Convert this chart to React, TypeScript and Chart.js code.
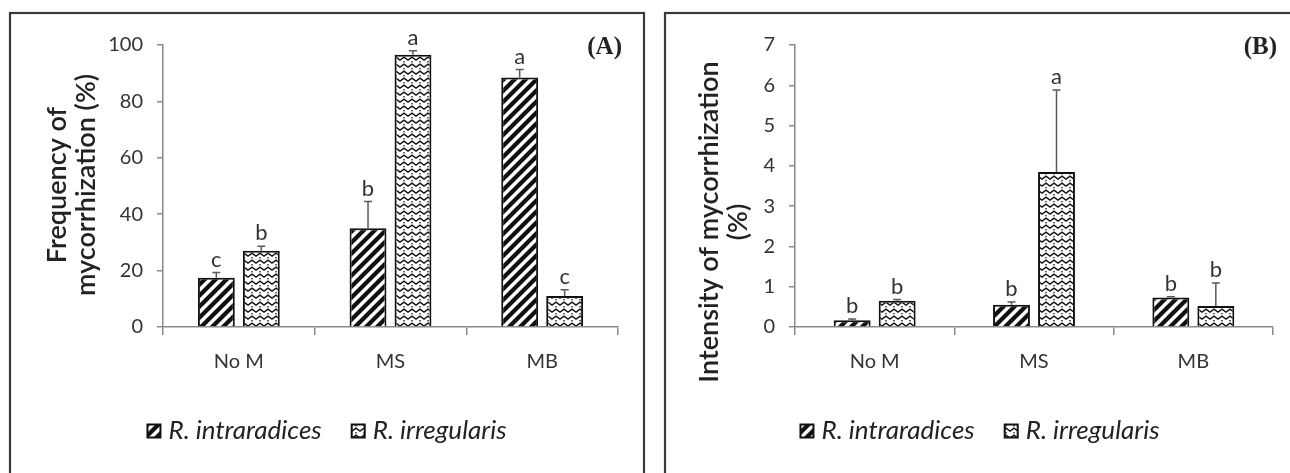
import React, { useEffect, useRef } from 'react';
import { Chart, registerables } from 'chart.js';

Chart.register(...registerables);

// ---------- data ----------
const categories = ['No M', 'MS', 'MB'];
const seriesNames = ['R. intraradices', 'R. irregularis'];

// Panel (A): frequency of mycorrhization (%)
const freqIntra = [17.5, 35, 88.5];
const freqIntraErr = [1.8, 9.5, 2.8];
const freqIrreg = [27, 96.5, 11];
const freqIrregErr = [1.6, 1.5, 2.2];
const freqIntraLetters = ['c', 'b', 'a'];
const freqIrregLetters = ['b', 'a', 'c'];
const freqMax = 100;
const freqStep = 20;

// Panel (B): intensity of mycorrhization (%)
const intIntra = [0.17, 0.55, 0.73];
const intIntraErr = [0.03, 0.07, 0.02];
const intIrreg = [0.65, 3.85, 0.52];
const intIrregErr = [0.03, 2.03, 0.57];
const intIntraLetters = ['b', 'b', 'b'];
const intIrregLetters = ['b', 'a', 'b'];
const intMax = 7;
const intStep = 1;

const FONT = "Lato, 'Open Sans', sans-serif";

function makeStripePattern(ctx: CanvasRenderingContext2D) {
  const c = document.createElement('canvas');
  const s = 11;
  c.width = s;
  c.height = s;
  const g = c.getContext('2d')!;
  g.fillStyle = '#ffffff';
  g.fillRect(0, 0, s, s);
  g.strokeStyle = '#111111';
  g.lineWidth = 4.2;
  g.lineCap = 'square';
  for (const x0 of [-s, 0, s]) {
    g.beginPath();
    g.moveTo(x0 - 1, s + 1);
    g.lineTo(x0 + s + 1, -1);
    g.stroke();
  }
  return ctx.createPattern(c, 'repeat')!;
}

function makeWavePattern(ctx: CanvasRenderingContext2D) {
  const c = document.createElement('canvas');
  const w = 8;
  const h = 7;
  c.width = w;
  c.height = h;
  const g = c.getContext('2d')!;
  g.fillStyle = '#ffffff';
  g.fillRect(0, 0, w, h);
  g.strokeStyle = '#111111';
  g.lineWidth = 1.4;
  g.beginPath();
  g.moveTo(-0.5, 4.5);
  g.lineTo(4, 1.2);
  g.lineTo(8.5, 4.5);
  g.stroke();
  g.fillStyle = '#222222';
  g.fillRect(3.3, 5.0, 1.4, 1.4);
  return ctx.createPattern(c, 'repeat')!;
}

type PanelCfg = {
  intra: number[];
  intraErr: number[];
  irreg: number[];
  irregErr: number[];
  intraLetters: string[];
  irregLetters: string[];
  yMax: number;
  yStep: number;
  titleLines: string[];
  titleX: number[];
  titleCY: number;
  panelLabel: string;
  width: number;
  areaLeft: number;
  areaRight: number;
  borderLeft: number;
  borderRight: number;
  catPct: number;
};

const H = 473;
const AREA_TOP = 45;
const AREA_BOTTOM = 327;

function buildChart(canvas: HTMLCanvasElement, cfg: PanelCfg) {
  const ctx = canvas.getContext('2d')!;
  const stripe = makeStripePattern(ctx);
  const wave = makeWavePattern(ctx);
  const errs = [cfg.intraErr, cfg.irregErr];
  const vals = [cfg.intra, cfg.irreg];
  const letters = [cfg.intraLetters, cfg.irregLetters];
  const fills = [stripe, wave];

  const overlay = {
    id: 'overlay',
    beforeDraw(chart: any) {
      const c = chart.ctx;
      c.save();
      c.fillStyle = '#ffffff';
      c.fillRect(0, 0, chart.width, chart.height);
      c.strokeStyle = '#3a3a3a';
      c.lineWidth = 2.2;
      c.strokeRect(cfg.borderLeft, 13, cfg.borderRight - cfg.borderLeft, 500);
      c.restore();
    },
    afterDatasetsDraw(chart: any) {
      const c = chart.ctx;
      const ys = chart.scales.y;
      c.save();
      for (let d = 0; d < 2; d++) {
        const meta = chart.getDatasetMeta(d);
        meta.data.forEach((el: any, i: number) => {
          const top = ys.getPixelForValue(vals[d][i] + errs[d][i]);
          c.strokeStyle = '#5a5a5a';
          c.lineWidth = 1.5;
          c.beginPath();
          c.moveTo(el.x, el.y);
          c.lineTo(el.x, top);
          c.moveTo(el.x - 4, top);
          c.lineTo(el.x + 4, top);
          c.stroke();
          c.fillStyle = '#333333';
          c.font = `22px ${FONT}`;
          c.textAlign = 'center';
          c.textBaseline = 'alphabetic';
          c.fillText(letters[d][i], el.x, top - 6);
        });
      }
      c.restore();
    },
    afterDraw(chart: any) {
      const c = chart.ctx;
      c.save();
      // y-axis title
      c.fillStyle = '#222222';
      c.font = `600 27px ${FONT}`;
      c.textAlign = 'center';
      c.textBaseline = 'middle';
      cfg.titleLines.forEach((t, k) => {
        c.save();
        c.translate(cfg.titleX[k], cfg.titleCY);
        c.rotate(-Math.PI / 2);
        c.fillText(t, 0, 0);
        c.restore();
      });
      // panel label
      c.font = `bold 25px 'Liberation Serif', 'DejaVu Serif', serif`;
      c.fillStyle = '#222222';
      c.textAlign = 'right';
      c.textBaseline = 'middle';
      c.fillText(cfg.panelLabel, cfg.areaRight + 4, 48);
      // legend
      c.font = `italic 26px ${FONT}`;
      const sw = 13;
      const gapSw = 8;
      const gapItem = 30;
      const widths = seriesNames.map((n) => c.measureText(n).width);
      const total = widths.reduce((a, b) => a + b, 0) + 2 * (sw + gapSw) + gapItem;
      const mid = (cfg.borderLeft + cfg.borderRight) / 2;
      let x = mid - total / 2;
      const ly = 431;
      seriesNames.forEach((n, k) => {
        c.fillStyle = fills[k];
        c.fillRect(x, ly - sw / 2, sw, sw);
        c.strokeStyle = '#111111';
        c.lineWidth = 2;
        c.strokeRect(x, ly - sw / 2, sw, sw);
        x += sw + gapSw;
        c.fillStyle = '#222222';
        c.textAlign = 'left';
        c.textBaseline = 'middle';
        c.fillText(n, x, ly);
        x += widths[k] + gapItem;
      });
      c.restore();
    },
  };

  return new Chart(canvas, {
    type: 'bar',
    data: {
      labels: categories,
      datasets: [
        {
          label: seriesNames[0],
          data: cfg.intra,
          backgroundColor: stripe as any,
          borderColor: '#111111',
          borderWidth: 2,
          categoryPercentage: cfg.catPct,
          barPercentage: 0.82,
        },
        {
          label: seriesNames[1],
          data: cfg.irreg,
          backgroundColor: wave as any,
          borderColor: '#111111',
          borderWidth: 2,
          categoryPercentage: cfg.catPct,
          barPercentage: 0.82,
        },
      ],
    },
    options: {
      responsive: false,
      animation: false,
      devicePixelRatio: 1,
      layout: {
        padding: { left: 0, right: cfg.width - cfg.areaRight, top: AREA_TOP, bottom: 0 },
      },
      plugins: {
        legend: { display: false },
        tooltip: { enabled: false },
        title: { display: false },
      },
      scales: {
        x: {
          type: 'category',
          offset: true,
          afterFit: (s: any) => {
            s.height = H - AREA_BOTTOM;
          },
          grid: {
            offset: true,
            drawOnChartArea: false,
            drawTicks: true,
            tickLength: 8,
            color: '#8a8a8a',
            lineWidth: 1.5,
          },
          border: { display: true, color: '#8a8a8a', width: 1.5 },
          ticks: {
            color: '#333333',
            font: { family: FONT, size: 20 },
            padding: 15,
          },
        },
        y: {
          min: 0,
          max: cfg.yMax,
          afterFit: (s: any) => {
            s.width = cfg.areaLeft;
          },
          grid: {
            drawOnChartArea: false,
            drawTicks: true,
            tickLength: 6,
            color: '#8a8a8a',
            lineWidth: 1.5,
          },
          border: { display: true, color: '#8a8a8a', width: 1.5 },
          ticks: {
            stepSize: cfg.yStep,
            color: '#333333',
            font: { family: FONT, size: 20 },
            padding: 14,
          },
        },
      },
    },
    plugins: [overlay],
  });
}

const panelA: PanelCfg = {
  intra: freqIntra,
  intraErr: freqIntraErr,
  irreg: freqIrreg,
  irregErr: freqIrregErr,
  intraLetters: freqIntraLetters,
  irregLetters: freqIrregLetters,
  yMax: freqMax,
  yStep: freqStep,
  titleLines: ['Frequency of', 'mycorrhization (%)'],
  titleX: [57, 86],
  titleCY: 185,
  panelLabel: '(A)',
  width: 650,
  areaLeft: 163,
  areaRight: 618,
  borderLeft: 10,
  borderRight: 644,
  catPct: 0.593,
};

const panelB: PanelCfg = {
  intra: intIntra,
  intraErr: intIntraErr,
  irreg: intIrreg,
  irregErr: intIrregErr,
  intraLetters: intIntraLetters,
  irregLetters: intIrregLetters,
  yMax: intMax,
  yStep: intStep,
  titleLines: ['Intensity of mycorrhization', '(%)'],
  titleX: [59, 88],
  titleCY: 222,
  panelLabel: '(B)',
  width: 640,
  areaLeft: 145,
  areaRight: 623,
  borderLeft: 15,
  borderRight: 645,
  catPct: 0.565,
};

export default function App() {
  const refA = useRef<HTMLCanvasElement>(null);
  const refB = useRef<HTMLCanvasElement>(null);

  useEffect(() => {
    document.body.style.margin = '0';
    const a = buildChart(refA.current!, panelA);
    const b = buildChart(refB.current!, panelB);
    return () => {
      a.destroy();
      b.destroy();
    };
  }, []);

  return (
    <div style={{ position: 'relative', width: 1290, height: H, background: '#fff', overflow: 'hidden' }}>
      <canvas
        ref={refA}
        width={650}
        height={H}
        style={{ position: 'absolute', left: 0, top: 0, width: 650, height: H }}
      />
      <canvas
        ref={refB}
        width={640}
        height={H}
        style={{ position: 'absolute', left: 650, top: 0, width: 640, height: H }}
      />
    </div>
  );
}
